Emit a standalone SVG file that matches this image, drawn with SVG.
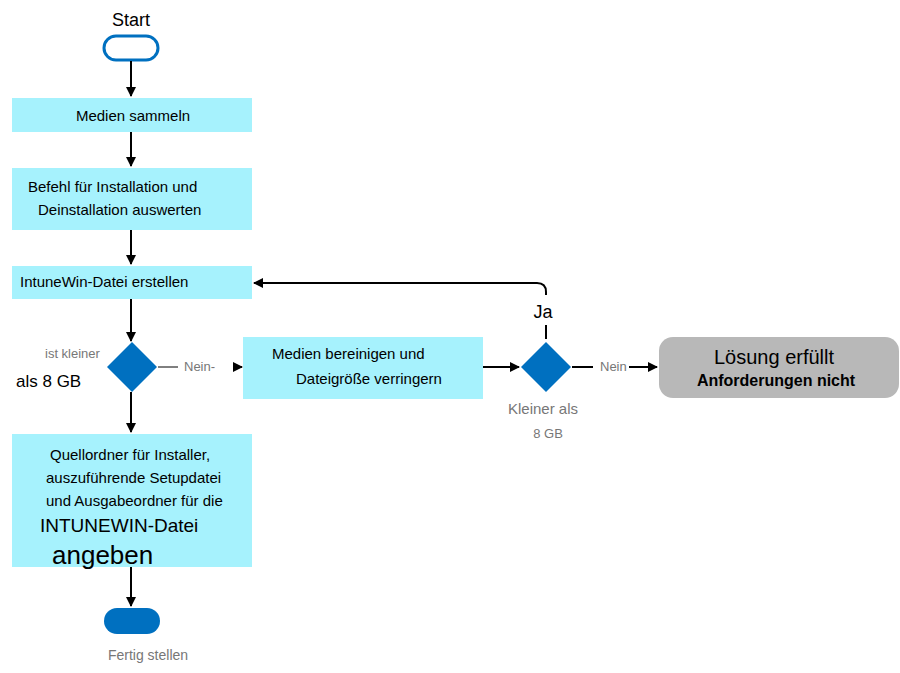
<svg xmlns="http://www.w3.org/2000/svg" width="900" height="673" viewBox="0 0 900 673">
<style>
.box{fill:#a6f2fd}
.t{font-family:"Liberation Sans",Arial,sans-serif;fill:#000}
.g{fill:#777}
.ln{stroke:#000;stroke-width:2;fill:none}
.dia{fill:#0070c0}
</style>
<defs><marker id="a" viewBox="0 0 10 10" refX="9" refY="5" markerWidth="5" markerHeight="5" orient="auto"><path d="M0,0L10,5L0,10z" fill="#000"/></marker></defs>
<rect width="900" height="673" fill="#fff"/>
<g id="start"><text class="t" x="131" y="26" font-size="18" text-anchor="middle" fill="#222">Start</text><rect x="104" y="36" width="54" height="24" rx="12" fill="#fff" stroke="#0070c0" stroke-width="3"/></g>
<g id="n1"><rect class="box" x="12" y="98" width="240" height="34"/><text class="t" x="133" y="121" font-size="15" text-anchor="middle">Medien sammeln</text></g>
<g id="n2"><rect class="box" x="12" y="168" width="240" height="62"/><text class="t" x="28" y="192" font-size="15">Befehl für Installation und</text><text class="t" x="38" y="215" font-size="15">Deinstallation auswerten</text></g>
<g id="n3"><rect class="box" x="12" y="266" width="240" height="33"/><text class="t" x="20" y="287" font-size="15">IntuneWin-Datei erstellen</text></g>
<g id="d1"><path class="dia" d="M132,342L157,367L132,392L107,367z"/><text class="t g" x="45" y="358" font-size="13">ist kleiner</text><text class="t" x="16" y="387" font-size="17" fill="#222">als 8 GB</text></g>
<g id="n4"><rect class="box" x="243" y="337" width="240" height="62"/><text class="t" x="272" y="359" font-size="15">Medien bereinigen und</text><text class="t" x="296" y="384" font-size="15">Dateigröße verringern</text></g>
<g id="d2"><path class="dia" d="M546,342L571,367L546,392L521,367z"/><text class="t g" x="543" y="414" font-size="15" text-anchor="middle">Kleiner als</text><text class="t g" x="548" y="438" font-size="13" text-anchor="middle">8 GB</text></g>
<g id="n5"><rect x="659" y="337" width="240" height="61" rx="14" fill="#b8b8b8"/><text class="t" x="774" y="364" font-size="20" text-anchor="middle">Lösung erfüllt</text><text class="t" x="776" y="386" font-size="16" font-weight="bold" text-anchor="middle">Anforderungen nicht</text></g>
<g id="n6"><rect class="box" x="12" y="434" width="240" height="133"/><text class="t" x="50" y="460" font-size="15">Quellordner für Installer,</text><text class="t" x="46" y="483" font-size="15">auszuführende Setupdatei</text><text class="t" x="46" y="506" font-size="15">und Ausgabeordner für die</text><text class="t" x="40" y="532" font-size="19">INTUNEWIN-Datei</text><text class="t" x="52" y="564" font-size="26">angeben</text></g>
<g id="end"><rect x="104" y="608" width="56" height="26" rx="13" fill="#0070c0"/><text class="t g" x="148" y="660" font-size="14" text-anchor="middle">Fertig stellen</text></g>
<g id="connectors">
<line class="ln" x1="131" y1="61" x2="131" y2="96" marker-end="url(#a)"/>
<line class="ln" x1="131" y1="132" x2="131" y2="166" marker-end="url(#a)"/>
<line class="ln" x1="131" y1="230" x2="131" y2="264" marker-end="url(#a)"/>
<line class="ln" x1="131" y1="299" x2="131" y2="341" marker-end="url(#a)"/>
<line class="ln" x1="131" y1="392" x2="131" y2="432" marker-end="url(#a)"/>
<line class="ln" x1="131" y1="567" x2="131" y2="606" marker-end="url(#a)"/>
<line x1="158" y1="367" x2="178" y2="367" stroke="#000" stroke-width="1"/>
<text class="t g" x="184" y="371" font-size="13">Nein-</text>
<line class="ln" x1="234" y1="367" x2="242" y2="367" marker-end="url(#a)"/>
<line class="ln" x1="483" y1="367" x2="519" y2="367" marker-end="url(#a)"/>
<line class="ln" x1="572" y1="367" x2="593" y2="367"/>
<text class="t g" x="600" y="371" font-size="13">Nein</text>
<line class="ln" x1="629" y1="367" x2="657" y2="367" marker-end="url(#a)"/>
<path class="ln" d="M546,339V325M546,295V292Q546,283 537,283H254" marker-end="url(#a)"/>
<text class="t" x="543" y="318" font-size="18" text-anchor="middle" fill="#444">Ja</text>
</g>
</svg>
